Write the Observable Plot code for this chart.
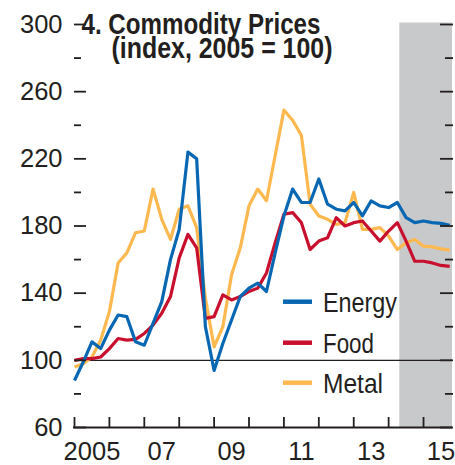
<!DOCTYPE html>
<html><head><meta charset="utf-8">
<script src="https://cdn.jsdelivr.net/npm/d3@7"></script>
<script src="https://cdn.jsdelivr.net/npm/@observablehq/plot@0.6"></script>
<style>
body{margin:0;background:#fff;}
#chart svg{display:block;}
</style>
</head><body><div id="chart"></div>
<script>
// Quarterly series, 2005Q1 .. 2015Q4 (index, 2005 = 100)
const startYear = 2005;
const energy = [88, 99, 111, 107, 118, 127, 126, 111, 109, 122, 135, 160,
  178, 224, 220, 120, 94, 110, 124, 138, 143, 146, 141, 164,
  186, 202, 194, 194, 208, 193, 190, 189, 194, 186, 195, 192,
  191, 194, 185, 182, 183, 182, 181.6, 180.4];
const food = [100, 101, 101, 102, 107, 113, 112, 112.5, 116, 121, 128, 138,
  161, 175, 167, 125, 126, 139, 136, 138, 141, 143, 152, 170,
  187, 188, 182, 166, 171, 173, 185, 180, 182, 183, 177, 171,
  177, 182, 171, 159, 159, 158, 156.5, 156];
const metal = [96, 98, 102, 112, 129, 158, 164, 176, 177, 202, 184, 172,
  190, 192, 179, 137, 108, 120, 151, 167, 192, 202, 195, 222,
  249, 243, 234, 193, 186, 184, 181, 182, 200, 178, 178, 179,
  174, 166, 170, 172, 168, 167.6, 166.4, 165.6];
const seriesNames = ["Energy", "Food", "Metal"];
const seriesColors = ["#0867b2", "#c8102e", "#fdb94f"];
const majorTicks = [60, 100, 140, 180, 220, 260, 300];
const minorTicks = [80, 120, 160, 200, 240, 280];
const yearTicks = [2005, 2006, 2007, 2008, 2009, 2010, 2011, 2012, 2013, 2014, 2015];
const yearLabels = [2005, 2007, 2009, 2011, 2013, 2015];
const yearLabelText = ["2005", "07", "09", "11", "13", "15"];
const forecastStart = 2014.32;
const xEnd = 2015.83;
const titleLines = ["4. Commodity Prices", "(index, 2005 = 100)"];

const seriesValues = [energy, food, metal];
const rows = [];
seriesNames.forEach((name, s) => {
  seriesValues[s].forEach((v, i) => rows.push({series: name, date: startYear + i / 4, value: v}));
});
const labelMap = new Map(yearLabels.map((y, i) => [y + 0.5, yearLabelText[i]]));
const FONT = "'Liberation Sans', Arial, Helvetica, sans-serif";
const INK = "#231f20";

const drawOrder = ["Metal", "Food", "Energy"];
const lineMarks = drawOrder.map(name => Plot.line(rows.filter(d => d.series === name), {
  x: "date", y: "value", stroke: seriesColors[seriesNames.indexOf(name)],
  strokeWidth: 3.2, strokeLinejoin: "round", strokeLinecap: "butt"
}));

const chart = Plot.plot({
  width: 455, height: 465,
  marginLeft: 74, marginRight: 3, marginTop: 24, marginBottom: 38,
  style: {fontFamily: FONT, color: INK, background: "#fff"},
  x: {domain: [startYear, xEnd], axis: null},
  y: {domain: [60, 300], axis: null},
  marks: [
    Plot.rect([{x1: forecastStart, x2: xEnd}], {x1: "x1", x2: "x2", y1: 60, y2: 300, fill: "#c8c9cb", insetTop: -1.5}),
    Plot.ruleY([100], {stroke: INK, strokeWidth: 1.3}),
    ...lineMarks,
    Plot.ruleY([60], {stroke: INK, strokeWidth: 1.8, insetLeft: -1}),
    Plot.axisY(majorTicks, {anchor: "left", tickSize: -12, fill: "none", label: null, stroke: INK, strokeWidth: 1.8}),
    Plot.axisY(minorTicks, {anchor: "left", tickSize: -7, fill: "none", label: null, stroke: INK, strokeWidth: 1.8}),
    Plot.axisY(majorTicks, {anchor: "right", tickSize: -13, fill: "none", label: null, stroke: INK, strokeWidth: 1.8}),
    Plot.axisY(minorTicks, {anchor: "right", tickSize: -8, fill: "none", label: null, stroke: INK, strokeWidth: 1.8}),
    Plot.axisY(majorTicks, {anchor: "left", tickSize: 0, tickPadding: 12, fontSize: 25.5, label: null, fill: INK}),
    Plot.axisX(yearTicks, {anchor: "bottom", tickSize: -10, fill: "none", label: null, stroke: INK, strokeWidth: 1.8}),
    Plot.axisX(yearLabels.map(y => y + 0.5), {anchor: "bottom", tickSize: 0, tickPadding: 14, fontSize: 25.5, label: null, fill: INK, tickFormat: d => labelMap.get(d)})
  ]
});
document.getElementById("chart").appendChild(chart);

// Title and legend (layout text, inside the SVG)
const svg = d3.select(chart);
const title = svg.append("g").attr("font-family", FONT).attr("font-weight", "bold")
  .attr("font-size", 29).attr("fill", INK).attr("text-anchor", "start");
const titleX = [81.5, 111.5], titleY = [34, 57.5], titleW = [239, 221];
titleLines.forEach((t, i) => {
  title.append("text").attr("x", titleX[i]).attr("y", titleY[i])
    .attr("textLength", titleW[i]).attr("lengthAdjust", "spacingAndGlyphs").text(t);
});

const legend = svg.append("g").attr("font-family", FONT).attr("font-size", 27.5)
  .attr("fill", INK).attr("text-anchor", "start");
const legendRows = [301.7, 342.7, 382.7];
const legendW = [74, 51, 60];
seriesNames.forEach((name, i) => {
  legend.append("line").attr("x1", 283).attr("x2", 312).attr("y1", legendRows[i]).attr("y2", legendRows[i])
    .attr("stroke", seriesColors[i]).attr("stroke-width", 4.5);
  legend.append("text").attr("x", 323).attr("y", legendRows[i]).attr("dy", "0.36em")
    .attr("textLength", legendW[i]).attr("lengthAdjust", "spacingAndGlyphs").text(name);
});
</script>
</body></html>
